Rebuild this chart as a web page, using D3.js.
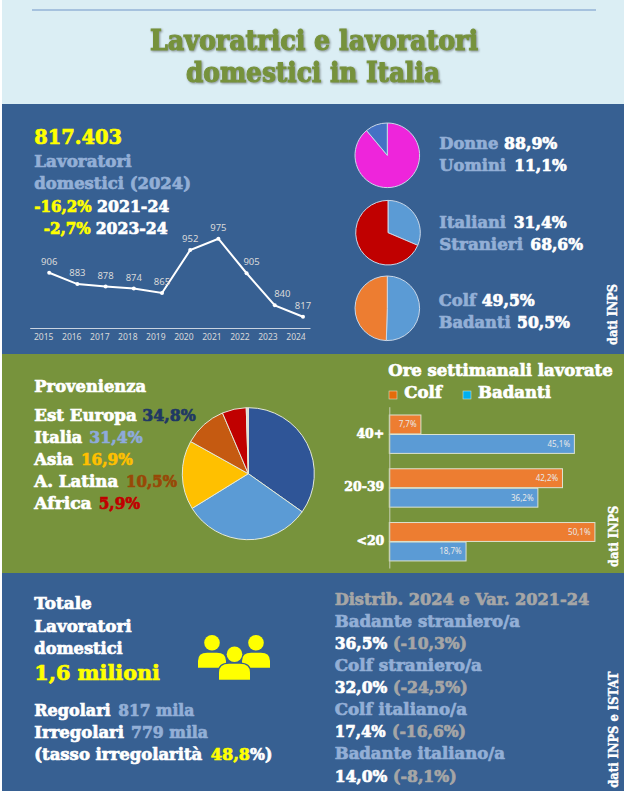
<!DOCTYPE html>
<html>
<head>
<meta charset="utf-8">
<script src="https://cdn.jsdelivr.net/npm/d3@7"></script>
<style>
  body { margin: 0; background: #fff; }
  svg { display: block; }
  .tit { filter: drop-shadow(1px 1px 1px rgba(0,0,0,.4)); }
</style>
</head>
<body>
<div id="chart"></div>
<script>
// Data
var years = ["2015","2016","2017","2018","2019","2020","2021","2022","2023","2024"];
var workers = [906, 883, 878, 874, 865, 952, 975, 905, 840, 817];

var genderValues = [88.9, 11.1];       // Donne, Uomini
var originValues = [31.4, 68.6];       // Italiani, Stranieri
var jobValues = [50.5, 49.5];          // Badanti, Colf

var provenance = ["Est Europa", "Italia", "Asia", "A. Latina", "Africa", "Altro"];
var provenanceValues = [34.8, 31.4, 16.9, 10.5, 5.9, 0.5];

var hourBands = ["40+", "20-39", "<20"];
var hourSeries = ["Colf", "Badanti"];
var colfHours = [7.7, 42.2, 50.1];
var badantiHours = [45.1, 36.2, 18.7];

var distribNames = ["Badante straniero/a", "Colf straniero/a", "Colf italiano/a", "Badante italiano/a"];
var distribShare = [36.5, 32.0, 17.4, 14.0];
var distribChange = [-10.3, -24.5, -16.6, -8.1];

// Colours
var BLUE = "#376092", GREEN = "#77933C", PALE = "#DBEEF4";
var SOFT = "#93AFD6", GREY = "#A6A6A6", YELLOW = "#FFFF00", WHITE = "#FFFFFF";
var HEAVY = "'DejaVu Serif', serif";
var PLAIN = "'Noto Sans', 'Open Sans', sans-serif";

var it = d3.formatLocale({decimal: ",", thousands: ".", grouping: [3], currency: ["", "€"], minus: "-"});
var pct = it.format(".1f");

var svg = d3.select("#chart").append("svg").attr("width", 624).attr("height", 791);

// Background bands
svg.append("rect").attr("x", 2).attr("y", 0).attr("width", 622).attr("height", 104).attr("fill", PALE);
svg.append("rect").attr("x", 2).attr("y", 104).attr("width", 622).attr("height", 250).attr("fill", BLUE);
svg.append("rect").attr("x", 2).attr("y", 354).attr("width", 622).attr("height", 219).attr("fill", GREEN);
svg.append("rect").attr("x", 2).attr("y", 573).attr("width", 622).attr("height", 218).attr("fill", BLUE);
svg.append("line").attr("x1", 32).attr("x2", 596).attr("y1", 10).attr("y2", 10)
  .attr("stroke", "#95B3D7").attr("stroke-width", 1.5);

// Heavy text squeezed between two x positions
function label(text, x0, x1, base, fill, size) {
  return svg.append("text")
    .attr("x", x0).attr("y", base)
    .attr("textLength", x1 - x0).attr("lengthAdjust", "spacingAndGlyphs")
    .attr("font-family", HEAVY).attr("font-weight", 700)
    .attr("font-size", size || 16.5)
    .attr("fill", fill).attr("stroke", fill).attr("stroke-width", size > 24 ? 1.1 : 0.7)
    .text(text);
}

// Same thing turned 90 degrees, reading upwards
function sideLabel(text, x, yBottom, yTop) {
  svg.append("text")
    .attr("transform", `translate(${x},${yBottom}) rotate(-90)`)
    .attr("textLength", yBottom - yTop).attr("lengthAdjust", "spacingAndGlyphs")
    .attr("font-family", HEAVY).attr("font-weight", 700).attr("font-size", 12.5)
    .attr("fill", WHITE).attr("stroke", WHITE).attr("stroke-width", 0.4)
    .text(text);
}

function drawPie(cx, cy, r, values, colors, stroke) {
  var pie = d3.pie().sort(null);
  var arc = d3.arc().innerRadius(0).outerRadius(r);
  svg.append("g").attr("transform", `translate(${cx},${cy})`)
    .selectAll("path").data(pie(values)).join("path")
    .attr("d", arc)
    .attr("fill", (d, i) => colors[i])
    .attr("stroke", stroke).attr("stroke-width", 1);
}

// Title
label("Lavoratrici e lavoratori", 150, 478, 49.5, "#76923C", 27).classed("tit", true);
label("domestici in Italia", 186, 440, 81.5, "#76923C", 27).classed("tit", true);

// Line chart headline
label("817.403", 34.3, 122, 144.3, YELLOW, 20);
label("Lavoratori", 34.3, 131.7, 166.7, SOFT);
label("domestici (2024)", 34.3, 191, 189.3, SOFT);
label("-16,2%", 34.3, 91.7, 211.7, YELLOW);
label("2021-24", 97, 169.3, 211.7, WHITE);
label("-2,7%", 43.7, 90.7, 234, YELLOW);
label("2023-24", 95.7, 167.7, 234, WHITE);

// Line chart
var xTicks = d3.scaleBand().domain(years).range([29.7, 310]);
var xLine = d3.scalePoint().domain(years).range([49.2, 303]);
var yLine = d3.scaleLinear().domain([817, 975]).range([316.7, 238.7]);

var lineAxis = svg.append("g").attr("transform", "translate(0,328)")
  .call(d3.axisBottom(xTicks).tickSize(0).tickPadding(6));
lineAxis.select(".domain").attr("stroke", "#C9D3E0").attr("stroke-width", 1);
lineAxis.selectAll("text").attr("font-family", PLAIN).attr("font-size", 8.5).attr("fill", "#D9D9D9");

var points = years.map((y, i) => ({year: y, value: workers[i]}));
svg.append("path").datum(points)
  .attr("fill", "none").attr("stroke", WHITE).attr("stroke-width", 2)
  .attr("d", d3.line().x(d => xLine(d.year)).y(d => yLine(d.value)));
svg.selectAll(".pt").data(points).join("circle").attr("class", "pt")
  .attr("cx", d => xLine(d.year)).attr("cy", d => yLine(d.value)).attr("r", 2).attr("fill", WHITE);

// Most labels sit above their point, 2022 and 2023 are pushed right
var labelShift = {"2022": 5, "2023": 7.5};
svg.selectAll(".val").data(points).join("text").attr("class", "val")
  .attr("x", d => xLine(d.year) + (labelShift[d.year] || 0))
  .attr("y", d => yLine(d.value) - 8)
  .attr("text-anchor", "middle")
  .attr("font-family", PLAIN).attr("font-size", 9.5).attr("fill", "#D9D9D9")
  .text(d => d.value);

// Three small pies
drawPie(387.3, 155.3, 32.3, genderValues, ["#EE25DB", "#4472C4"], "#C9D7E8");
drawPie(388, 232.7, 32.3, originValues, ["#5B9BD5", "#C00000"], "#C9D7E8");
drawPie(387.3, 308.3, 32.3, jobValues, ["#5B9BD5", "#ED7D31"], "#C9D7E8");

label("Donne", 439.3, 498.3, 149, SOFT);
label(pct(genderValues[0]) + "%", 504, 557.3, 149, WHITE);
label("Uomini", 439.3, 506, 171.3, SOFT);
label(pct(genderValues[1]) + "%", 514.3, 566.7, 171.3, WHITE);
label("Italiani", 439.3, 506, 227.7, SOFT);
label(pct(originValues[0]) + "%", 513.7, 566.7, 227.7, WHITE);
label("Stranieri", 439.3, 523, 250, SOFT);
label(pct(originValues[1]) + "%", 530.3, 583, 250, WHITE);
label("Colf", 438.7, 476, 305.7, SOFT);
label(pct(jobValues[1]) + "%", 481.7, 534.7, 305.7, WHITE);
label("Badanti", 438.7, 510.7, 328, SOFT);
label(pct(jobValues[0]) + "%", 517, 570, 328, WHITE);
sideLabel("dati INPS", 616.5, 345, 284);

// Provenienza
label("Provenienza", 34.3, 146, 391.7, WHITE);
var provColors = ["#2F5597", "#5B9BD5", "#FFC000", "#C55A11", "#C00000", "#D9D9D9"];
drawPie(248.3, 473.7, 66, provenanceValues, provColors, "#E4E9DA");

label(provenance[0], 34.3, 136.7, 421.3, WHITE);
label(pct(provenanceValues[0]) + "%", 142.3, 195.7, 421.3, "#1F3864");
label(provenance[1], 34.3, 82.3, 443.3, WHITE);
label(pct(provenanceValues[1]) + "%", 89.3, 142.7, 443.3, "#8EAADB");
label(provenance[2], 34.3, 73.3, 465.3, WHITE);
label(pct(provenanceValues[2]) + "%", 81, 132.7, 465.3, "#FFC000");
label(provenance[3], 34.3, 118.3, 487.3, WHITE);
label(pct(provenanceValues[3]) + "%", 126, 177, 487.3, "#984807");
label(provenance[4], 34.3, 91.7, 509.3, WHITE);
label(pct(provenanceValues[4]) + "%", 98.7, 140, 509.3, "#C00000");

// Ore settimanali
label("Ore settimanali lavorate", 388.3, 612.7, 376, WHITE);
svg.append("rect").attr("x", 389).attr("y", 391).attr("width", 8).attr("height", 8)
  .attr("fill", "#E46C0A").attr("stroke", "#E4E9DA").attr("stroke-width", 0.5);
svg.append("rect").attr("x", 463).attr("y", 391).attr("width", 8).attr("height", 8)
  .attr("fill", "#00B0F0").attr("stroke", "#E4E9DA").attr("stroke-width", 0.5);
label(hourSeries[0], 404.3, 442, 398, WHITE);
label(hourSeries[1], 478, 551, 398, WHITE);

var xBar = d3.scaleLinear().domain([0, 50]).range([389.3, 594.5]);
var yBand = d3.scaleBand().domain(hourBands).range([406.7, 568]);
var yInner = d3.scaleBand().domain(hourSeries).range([8.3, 46.7]).paddingInner(0.03);
var barRows = [
  {series: hourSeries[0], values: colfHours, color: "#ED7D31"},
  {series: hourSeries[1], values: badantiHours, color: "#5B9BD5"}
];

barRows.forEach((row) => {
  var cells = hourBands.map((b, i) => ({band: b, value: row.values[i]}));
  var g = svg.append("g");
  g.selectAll("rect").data(cells).join("rect")
    .attr("x", xBar(0))
    .attr("y", d => yBand(d.band) + yInner(row.series))
    .attr("width", d => xBar(d.value) - xBar(0))
    .attr("height", yInner.bandwidth())
    .attr("fill", row.color).attr("stroke", "#DDE3D0").attr("stroke-width", 1);
  g.selectAll("text").data(cells).join("text")
    .attr("x", d => xBar(d.value) - 4.3)
    .attr("y", d => yBand(d.band) + yInner(row.series) + yInner.bandwidth() / 2 + 2.8)
    .attr("text-anchor", "end")
    .attr("font-family", PLAIN).attr("font-size", 8).attr("fill", "#E8E8E8")
    .text(d => pct(d.value) + "%");
});

var barAxis = svg.append("g").attr("transform", `translate(${xBar(0)},0)`)
  .call(d3.axisLeft(yBand).tickSize(0).tickPadding(5));
barAxis.select(".domain").attr("stroke", "#C8CFB4").attr("stroke-width", 1);
barAxis.selectAll("text")
  .attr("font-family", HEAVY).attr("font-weight", 700).attr("font-size", 12.5)
  .attr("fill", WHITE).attr("stroke", WHITE).attr("stroke-width", 0.6);
sideLabel("dati INPS", 618, 567, 505.7);

// Totale
label("Totale", 34.3, 91.7, 609.3, WHITE);
label("Lavoratori", 34.3, 131.7, 631.7, WHITE);
label("domestici", 34.3, 122.7, 654, WHITE);
label("1,6 milioni", 34.3, 160, 680.3, YELLOW, 20);
label("Regolari", 34.3, 110.7, 716.3, WHITE);
label("817 mila", 118.3, 194.3, 716.3, SOFT);
label("Irregolari", 34.3, 124, 738, WHITE);
label("779 mila", 131, 208, 738, SOFT);
label("(tasso irregolarità", 34.3, 202.3, 760, WHITE);
label("48,8", 210.7, 250, 760, YELLOW);
label("%)", 250, 272.3, 760, WHITE);

// People icon: head and shoulders, bottom centre of each figure at (0,0)
function person(x, y, w, h, headY, outline) {
  var p = d3.path();
  var s = w / 2;
  p.moveTo(-s, 0);
  p.lineTo(-s, -h * 0.45);
  p.quadraticCurveTo(-s, -h, -s * 0.35, -h);
  p.lineTo(s * 0.35, -h);
  p.quadraticCurveTo(s, -h, s, -h * 0.45);
  p.lineTo(s, 0);
  p.closePath();
  var g = svg.append("g").attr("transform", `translate(${x},${y})`).attr("fill", YELLOW);
  g.append("path").attr("d", p.toString()).attr("stroke", outline || "none").attr("stroke-width", 2.5)
    .attr("paint-order", "stroke");
  g.append("circle").attr("cx", 0).attr("cy", headY).attr("r", 7.8);
}
person(212, 667.7, 28, 15, -25);
person(256, 667.7, 28, 15, -25);
person(234.5, 679.7, 31, 16, -25.4, BLUE);

// Distribuzione
label("Distrib. 2024 e Var. 2021-24", 334.7, 589.3, 605, GREY);
var distribRows = [
  {base: 626.7, nameEnd: 520, shareEnd: 387.3, changeStart: 393, changeEnd: 467},
  {base: 671, nameEnd: 482, shareEnd: 387.3, changeStart: 393, changeEnd: 467.7},
  {base: 715, nameEnd: 467, shareEnd: 385.7, changeStart: 392, changeEnd: 466},
  {base: 759.3, nameEnd: 505, shareEnd: 387.3, changeStart: 393, changeEnd: 456.7}
];
distribRows.forEach((r, i) => {
  label(distribNames[i], 334.7, r.nameEnd, r.base, SOFT);
  label(pct(distribShare[i]) + "%", 334.7, r.shareEnd, r.base + 22.4, WHITE);
  label("(" + pct(distribChange[i]) + "%)", r.changeStart, r.changeEnd, r.base + 22.4, GREY);
});
sideLabel("dati INPS e ISTAT", 617.7, 787.7, 671.7);
</script>
</body>
</html>
